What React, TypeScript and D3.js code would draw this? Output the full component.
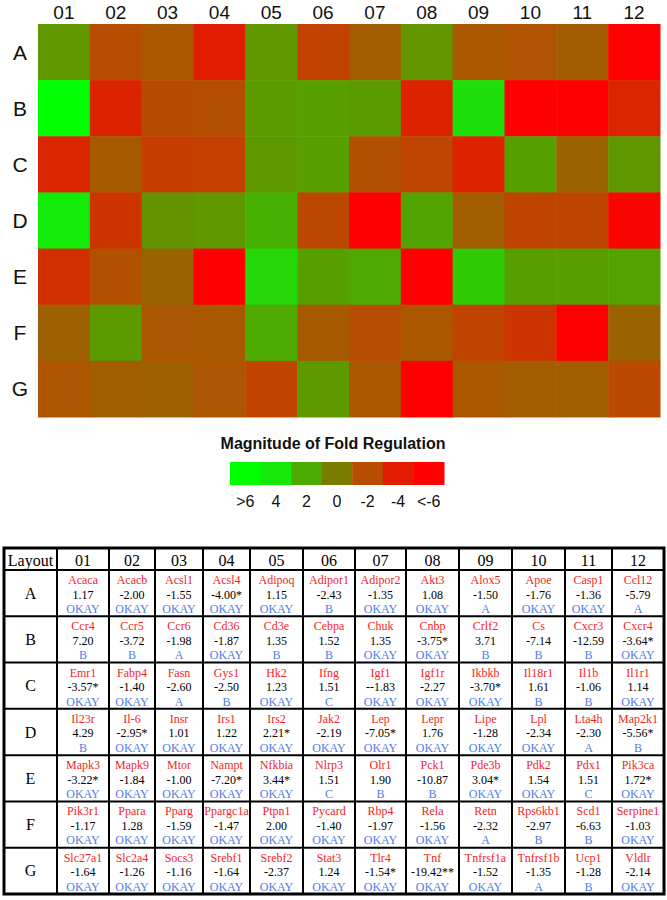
import React from 'react';
import * as d3 from 'd3';

// heatmap / table layout (rows A-G, columns 01-12)
const rowIds = ['A', 'B', 'C', 'D', 'E', 'F', 'G'];
const colIds = ['01', '02', '03', '04', '05', '06', '07', '08', '09', '10', '11', '12'];

const genes = [
  ['Acaca', 'Acacb', 'Acsl1', 'Acsl4', 'Adipoq', 'Adipor1', 'Adipor2', 'Akt3', 'Alox5', 'Apoe', 'Casp1', 'Ccl12'],
  ['Ccr4', 'Ccr5', 'Ccr6', 'Cd36', 'Cd3e', 'Cebpa', 'Chuk', 'Cnbp', 'Crlf2', 'Cs', 'Cxcr3', 'Cxcr4'],
  ['Emr1', 'Fabp4', 'Fasn', 'Gys1', 'Hk2', 'Ifng', 'Igf1', 'Igf1r', 'Ikbkb', 'Il18r1', 'Il1b', 'Il1r1'],
  ['Il23r', 'Il-6', 'Insr', 'Irs1', 'Irs2', 'Jak2', 'Lep', 'Lepr', 'Lipe', 'Lpl', 'Lta4h', 'Map2k1'],
  ['Mapk3', 'Mapk9', 'Mtor', 'Nampt', 'Nfkbia', 'Nlrp3', 'Olr1', 'Pck1', 'Pde3b', 'Pdk2', 'Pdx1', 'Pik3ca'],
  ['Pik3r1', 'Ppara', 'Pparg', 'Ppargc1a', 'Ptpn1', 'Pycard', 'Rbp4', 'Rela', 'Retn', 'Rps6kb1', 'Scd1', 'Serpine1'],
  ['Slc27a1', 'Slc2a4', 'Socs3', 'Srebf1', 'Srebf2', 'Stat3', 'Tlr4', 'Tnf', 'Tnfrsf1a', 'Tnfrsf1b', 'Ucp1', 'Vldlr'],
];

// fold regulation as printed (asterisks kept)
const folds = [
  ['1.17', '-2.00', '-1.55', '-4.00*', '1.15', '-2.43', '-1.35', '1.08', '-1.50', '-1.76', '-1.36', '-5.79'],
  ['7.20', '-3.72', '-1.98', '-1.87', '1.35', '1.52', '1.35', '-3.75*', '3.71', '-7.14', '-12.59', '-3.64*'],
  ['-3.57*', '-1.40', '-2.60', '-2.50', '1.23', '1.51', '--1.83', '-2.27', '-3.70*', '1.61', '-1.06', '1.14'],
  ['4.29', '-2.95*', '1.01', '1.22', '2.21*', '-2.19', '-7.05*', '1.76', '-1.28', '-2.34', '-2.30', '-5.56*'],
  ['-3.22*', '-1.84', '-1.00', '-7.20*', '3.44*', '1.51', '1.90', '-10.87', '3.04*', '1.54', '1.51', '1.72*'],
  ['-1.17', '1.28', '-1.59', '-1.47', '2.00', '-1.40', '-1.97', '-1.56', '-2.32', '-2.97', '-6.63', '-1.03'],
  ['-1.64', '-1.26', '-1.16', '-1.64', '-2.37', '1.24', '-1.54*', '-19.42**', '-1.52', '-1.35', '-1.28', '-2.14'],
];

const calls = [
  ['OKAY', 'OKAY', 'OKAY', 'OKAY', 'OKAY', 'B', 'OKAY', 'OKAY', 'A', 'OKAY', 'OKAY', 'A'],
  ['B', 'B', 'A', 'OKAY', 'B', 'B', 'OKAY', 'OKAY', 'B', 'B', 'B', 'OKAY'],
  ['OKAY', 'OKAY', 'A', 'B', 'OKAY', 'C', 'OKAY', 'OKAY', 'OKAY', 'B', 'B', 'OKAY'],
  ['B', 'OKAY', 'OKAY', 'OKAY', 'OKAY', 'OKAY', 'OKAY', 'OKAY', 'OKAY', 'OKAY', 'A', 'B'],
  ['OKAY', 'OKAY', 'OKAY', 'OKAY', 'OKAY', 'C', 'B', 'B', 'OKAY', 'OKAY', 'C', 'OKAY'],
  ['OKAY', 'OKAY', 'OKAY', 'OKAY', 'OKAY', 'OKAY', 'OKAY', 'OKAY', 'A', 'B', 'B', 'OKAY'],
  ['OKAY', 'OKAY', 'OKAY', 'OKAY', 'OKAY', 'OKAY', 'OKAY', 'OKAY', 'OKAY', 'A', 'B', 'OKAY'],
];

const legendValues = [6, 4, 2, 0, -2, -4, -6];
const legendLabels = ['>6', '4', '2', '0', '-2', '-4', '<-6'];

// styling
const legendColors = ['#00ff00', '#16e80a', '#4daa00', '#7a7c00', '#b84c00', '#e21c00', '#ff0000'];
const sans = '"Liberation Sans", Arial, sans-serif';
const serif = '"Liberation Serif", "Times New Roman", serif';
const nameRed = '#f41e26';
const callBlue = '#4f7ce6';
// table column edges (the original table is auto-sized)
const colEdges = [4, 57, 109, 155, 203, 250, 303, 355, 406, 459, 512, 565, 612, 664];

const toNumber = (s: string) => parseFloat(s.replace(/\*/g, '').replace(/^-+/, '-'));

export default function App() {
  const W = 667;
  const H = 900;

  const color = d3.scaleLinear<string>().domain(legendValues).range(legendColors).clamp(true);

  const x = d3.scaleBand().domain(colIds).range([38, 660]);
  const y = d3.scaleBand().domain(rowIds).range([24, 417]);

  const cells = rowIds.flatMap((r, i) =>
    colIds.map((c, j) => ({ r, c, v: toNumber(folds[i][j]) }))
  );

  const lx = d3.scaleBand().domain(legendLabels).range([230, 444]);

  const tableTop = 548;
  const headBottom = 570;
  const tableBottom = 894;
  const ty = d3.scaleBand().domain(rowIds).range([headBottom, tableBottom]);
  const colMid = (k: number) => (colEdges[k] + colEdges[k + 1]) / 2;

  return (
    <svg width={W} height={H} style={{ position: 'absolute', left: 0, top: 0, background: '#fff' }}>
      {/* heatmap */}
      <g>
        {cells.map((d) => (
          <rect
            key={d.r + d.c}
            x={x(d.c)}
            y={y(d.r)}
            width={x.bandwidth() + 0.5}
            height={y.bandwidth() + 0.5}
            fill={color(d.v)}
          />
        ))}
        {colIds.map((c) => (
          <text key={c} x={(x(c) as number) + x.bandwidth() / 2} y={12} textAnchor="middle"
            dominantBaseline="central" fontFamily={sans} fontSize={19} fill="#111">{c}</text>
        ))}
        {rowIds.map((r) => (
          <text key={r} x={20} y={(y(r) as number) + y.bandwidth() / 2} textAnchor="middle"
            dominantBaseline="central" fontFamily={sans} fontSize={21} fill="#111">{r}</text>
        ))}
      </g>

      {/* legend */}
      <g>
        <text x={333} y={443} textAnchor="middle" dominantBaseline="central" fontFamily={sans}
          fontWeight="bold" fontSize={16} fill="#111">Magnitude of Fold Regulation</text>
        {legendLabels.map((l, i) => (
          <g key={l}>
            <rect x={lx(l)} y={462} width={lx.bandwidth() + 0.5} height={23} fill={color(legendValues[i])} />
            <text x={(lx(l) as number) + lx.bandwidth() / 2} y={501} textAnchor="middle"
              dominantBaseline="central" fontFamily={sans} fontSize={16} fill="#111">{l}</text>
          </g>
        ))}
      </g>

      {/* table */}
      <g>
        <text x={colMid(0)} y={(tableTop + headBottom) / 2 + 1} textAnchor="middle" dominantBaseline="central"
          fontFamily={serif} fontSize={16} fill="#000">Layout</text>
        {colIds.map((c, j) => (
          <text key={c} x={colMid(j + 1)} y={(tableTop + headBottom) / 2 + 1} textAnchor="middle"
            dominantBaseline="central" fontFamily={serif} fontSize={16} fill="#000">{c}</text>
        ))}
        {rowIds.map((r, i) => {
          const top = ty(r) as number;
          return (
            <g key={r}>
              <text x={colMid(0)} y={top + ty.bandwidth() / 2} textAnchor="middle" dominantBaseline="central"
                fontFamily={serif} fontSize={16} fill="#000">{r}</text>
              {colIds.map((c, j) => (
                <g key={c} fontFamily={serif} fontSize={12} textAnchor="middle">
                  <text x={colMid(j + 1)} y={top + 10} dominantBaseline="central" fill={nameRed}>{genes[i][j]}</text>
                  <text x={colMid(j + 1)} y={top + 24.5} dominantBaseline="central" fill="#000">{folds[i][j]}</text>
                  <text x={colMid(j + 1)} y={top + 39} dominantBaseline="central" fill={callBlue}>{calls[i][j]}</text>
                </g>
              ))}
            </g>
          );
        })}
        {[headBottom, ...rowIds.slice(1).map((r) => ty(r) as number)].map((yy, k) => (
          <line key={'h' + k} x1={colEdges[0]} x2={colEdges[colEdges.length - 1]} y1={yy} y2={yy}
            stroke="#000" strokeWidth={2} />
        ))}
        {colEdges.slice(1, -1).map((xx, k) => (
          <line key={'v' + k} x1={xx} x2={xx} y1={tableTop} y2={tableBottom} stroke="#000" strokeWidth={2} />
        ))}
        <rect x={colEdges[0]} y={tableTop} width={colEdges[colEdges.length - 1] - colEdges[0]}
          height={tableBottom - tableTop} fill="none" stroke="#000" strokeWidth={3} />
      </g>
    </svg>
  );
}
